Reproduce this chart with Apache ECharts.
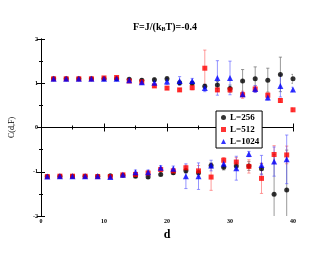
<!DOCTYPE html>
<html><head><meta charset="utf-8">
<script src="https://cdn.jsdelivr.net/npm/echarts@6/dist/echarts.min.js"></script>
<style>html,body{margin:0;padding:0;background:#fff}#c{width:330px;height:255px}</style>
</head><body><div id="c"></div>
<script>
// upper branch at even d, lower branch at odd d
var dUpper = [2,4,6,8,10,12,14,16,18,20,22,24,26,28,30,32,34,36,38,40];
var dLower = [1,3,5,7,9,11,13,15,17,19,21,23,25,27,29,31,33,35,37,39];

var up256  = [1.10,1.10,1.10,1.10,1.10,1.10,1.09,1.07,1.08,1.10,1.01,1.00,0.93,0.96,0.88,1.05,1.10,1.07,1.20,1.10];
var upErr256 = [0.02,0.02,0.02,0.02,0.02,0.02,0.02,0.03,0.04,0.05,0.04,0.04,0.05,0.08,0.08,0.26,0.27,0.27,0.39,0.10];
var up512  = [1.10,1.10,1.10,1.10,1.12,1.13,1.05,1.03,0.94,0.89,0.85,0.90,1.34,0.85,0.85,0.74,0.87,0.73,0.61,0.40];
var upErr512 = [0.02,0.02,0.02,0.02,0.02,0.03,0.02,0.03,0.03,0.03,0.03,0.05,0.41,0.04,0.05,0.08,0.07,0.05,0.04,0.04];
var up1024 = [1.10,1.10,1.10,1.10,1.10,1.10,1.07,1.02,1.01,1.04,1.05,1.05,0.89,1.12,1.12,0.75,0.87,0.68,0.94,0.86];
var upErr1024 = [0.02,0.02,0.02,0.02,0.02,0.02,0.03,0.05,0.06,0.07,0.10,0.06,0.08,0.39,0.38,0.05,0.08,0.06,0.25,0.05];

var lo256  = [-1.11,-1.10,-1.10,-1.10,-1.10,-1.09,-1.08,-1.10,-1.12,-1.06,-1.02,-0.98,-1.02,-0.86,-0.90,-0.87,-0.87,-0.93,-1.51,-1.41];
var loErr256 = [0.02,0.02,0.02,0.02,0.02,0.02,0.02,0.03,0.03,0.03,0.04,0.05,0.05,0.06,0.06,0.07,0.10,0.12,0.90,0.90];
var lo512  = [-1.11,-1.10,-1.10,-1.10,-1.11,-1.11,-1.07,-1.06,-1.03,-0.95,-0.98,-0.91,-0.98,-1.12,-0.74,-0.78,-0.88,-1.15,-0.61,-0.62];
var loErr512 = [0.02,0.02,0.02,0.02,0.02,0.02,0.03,0.04,0.05,0.05,0.05,0.06,0.12,0.30,0.06,0.10,0.15,0.34,0.20,0.20];
var lo1024 = [-1.11,-1.10,-1.10,-1.10,-1.10,-1.12,-1.07,-1.01,-1.01,-0.91,-0.93,-1.10,-1.10,-0.86,-0.82,-0.92,-0.60,-0.85,-0.77,-0.72];
var loErr1024 = [0.02,0.02,0.02,0.02,0.02,0.02,0.03,0.05,0.05,0.05,0.06,0.28,0.30,0.12,0.08,0.27,0.06,0.22,0.33,0.55];

var seriesNames = ['L=256','L=512','L=1024'];
var colors = ['#000000','#ff0000','#0000ff'];
var errColors = ['rgba(110,110,110,0.7)','rgba(255,90,90,0.6)','rgba(80,80,255,0.6)'];
var symbols = ['circle','rect','triangle'];
var symbolSizes = [5,5,6];
var xTicks = [0,10,20,30,40];
var yTicks = [-2,-1,0,1,2];

var ups = [up256, up512, up1024], upErrs = [upErr256, upErr512, upErr1024];
var los = [lo256, lo512, lo1024], loErrs = [loErr256, loErr512, loErr1024];

function pts(i){
  var a = [];
  dUpper.forEach(function(d,k){ a.push([d, ups[i][k]]); });
  dLower.forEach(function(d,k){ a.push([d, los[i][k]]); });
  return a;
}
function errs(i){
  var a = [];
  dUpper.forEach(function(d,k){ a.push([d, ups[i][k]-upErrs[i][k], ups[i][k]+upErrs[i][k]]); });
  dLower.forEach(function(d,k){ a.push([d, los[i][k]-loErrs[i][k], los[i][k]+loErrs[i][k]]); });
  return a;
}

var font = '"Liberation Serif","DejaVu Serif",serif';
var series = [];
seriesNames.forEach(function(n,i){
  series.push({
    type:'custom', name:n+'err', data: errs(i), clip:true, silent:true, z:1,
    renderItem: function(params, api){
      var x = api.value(0);
      var lo = api.coord([x, api.value(1)]);
      var hi = api.coord([x, api.value(2)]);
      var w = 1.6;
      var st = {stroke: errColors[i], lineWidth: 1};
      return {type:'group', children:[
        {type:'line', shape:{x1:lo[0],y1:lo[1],x2:hi[0],y2:hi[1]}, style:st},
        {type:'line', shape:{x1:lo[0]-w,y1:lo[1],x2:lo[0]+w,y2:lo[1]}, style:st},
        {type:'line', shape:{x1:hi[0]-w,y1:hi[1],x2:hi[0]+w,y2:hi[1]}, style:st}
      ]};
    }
  });
});
seriesNames.forEach(function(n,i){
  series.push({
    type:'scatter', name:n, data: pts(i), symbol: symbols[i], symbolSize: symbolSizes[i],
    itemStyle:{color: colors[i]}, z: 3+i
  });
});

var axisCommon = {
  axisLine:{show:true, lineStyle:{color:'#000', width:1}},
  axisTick:{show:true, inside:true, length:4, lineStyle:{color:'#000'}},
  minorTick:{show:true, splitNumber:2, length:2, lineStyle:{color:'#000'}},
  splitLine:{show:false}
};

var chart = echarts.init(document.getElementById('c'), null, {renderer:'canvas'});
chart.setOption({
  animation:false,
  backgroundColor:'#fff',
  title:{
    text:'{a|F=J/(k}{s|B}{a|T)=-0.4}', left:'center', top:17,
    textStyle:{rich:{
      a:{fontFamily:font, fontWeight:'bold', fontSize:10, color:'#000'},
      s:{fontFamily:font, fontWeight:'bold', fontSize:6, color:'#000', verticalAlign:'bottom', padding:[4,0,0,0]}
    }}
  },
  grid:{left:38, right:37, top:39, bottom:39},
  legend:{
    data:seriesNames, orient:'vertical', left:216, top:111,
    itemWidth:5, itemHeight:5, itemGap:3, padding:[2,3,2,5],
    borderColor:'#000', borderWidth:1, borderRadius:0, backgroundColor:'#fff',
    textStyle:{fontFamily:font, fontWeight:'bold', fontSize:9, color:'#000', padding:[0,0,0,-1]}
  },
  xAxis:[
    Object.assign({type:'value', min:0, max:40, interval:10,
      name:'d', nameLocation:'middle', nameGap:13,
      nameTextStyle:{fontFamily:font, fontWeight:'bold', fontSize:12, color:'#000'},
      axisLabel:{fontFamily:font, fontWeight:'bold', fontSize:6, color:'#000', margin:2}
    }, axisCommon),
    Object.assign({type:'value', min:0, max:40, interval:10, position:'top',
      axisLabel:{show:false}}, axisCommon)
  ],
  yAxis:[
    Object.assign({type:'value', min:-2, max:2, interval:1,
      name:'C(d,F)', nameLocation:'middle', nameGap:25,
      nameTextStyle:{fontFamily:font, fontSize:8, color:'#000'},
      axisLabel:{fontFamily:font, fontWeight:'bold', fontSize:6, color:'#000', margin:3}
    }, axisCommon),
    Object.assign({type:'value', min:-2, max:2, interval:1, position:'right',
      axisLabel:{show:false}}, axisCommon)
  ],
  series: series
});
</script></body></html>
